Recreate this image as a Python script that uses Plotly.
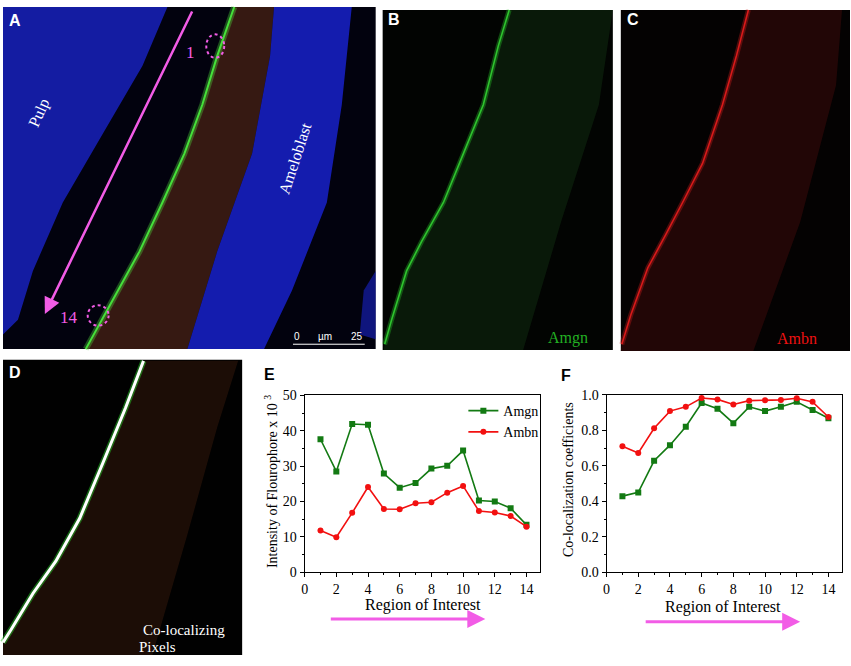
import plotly.graph_objects as go

W, H = 851, 666

# Data (panels E and F)
regions = list(range(1, 15))
amgn_intensity = [37.6, 28.5, 41.9, 41.7, 27.9, 23.9, 25.2, 29.3, 30.1, 34.4, 20.3, 20.0, 18.1, 13.4]
ambn_intensity = [11.8, 9.9, 16.8, 24.1, 17.9, 17.8, 19.5, 19.8, 22.5, 24.4, 17.3, 16.9, 15.9, 12.9]
amgn_coloc = [0.429, 0.450, 0.628, 0.716, 0.820, 0.954, 0.921, 0.840, 0.932, 0.908, 0.932, 0.960, 0.914, 0.868]
ambn_coloc = [0.710, 0.672, 0.811, 0.908, 0.932, 0.982, 0.974, 0.945, 0.967, 0.969, 0.971, 0.980, 0.960, 0.875]

GREEN = '#137a13'
RED = '#f21010'
PINK = '#f25ce6'
SERIF = 'Liberation Serif'
SANS = 'Liberation Sans'


# helpers: convert pixel positions of the picture into paper coordinates
def px(x):
    return x / W


def py(y):
    return 1 - y / H


def path(points, close=True):
    s = 'M ' + ' L '.join(f'{px(x):.5f},{py(y):.5f}' for x, y in points)
    return s + (' Z' if close else '')


fig = go.Figure()

# Panel E traces
fig.add_trace(go.Scatter(x=regions, y=amgn_intensity, mode='lines+markers', name='Amgn',
                         line=dict(color=GREEN, width=1.6),
                         marker=dict(symbol='square', size=6, color=GREEN),
                         xaxis='x', yaxis='y'))
fig.add_trace(go.Scatter(x=regions, y=ambn_intensity, mode='lines+markers', name='Ambn',
                         line=dict(color=RED, width=1.6),
                         marker=dict(symbol='circle', size=6, color=RED),
                         xaxis='x', yaxis='y'))
# Panel F traces
fig.add_trace(go.Scatter(x=regions, y=amgn_coloc, mode='lines+markers', name='Amgn',
                         line=dict(color=GREEN, width=1.6),
                         marker=dict(symbol='square', size=6, color=GREEN),
                         xaxis='x2', yaxis='y2', showlegend=False))
fig.add_trace(go.Scatter(x=regions, y=ambn_coloc, mode='lines+markers', name='Ambn',
                         line=dict(color=RED, width=1.6),
                         marker=dict(symbol='circle', size=6, color=RED),
                         xaxis='x2', yaxis='y2', showlegend=False))

axis_common = dict(showline=True, mirror=True, linecolor='black', linewidth=1,
                   showgrid=False, zeroline=False, ticks='outside', ticklen=4,
                   tickcolor='black', tickfont=dict(family=SERIF, size=14, color='black'))

fig.update_layout(
    xaxis=dict(domain=[px(302.7), px(539)], range=[0, 14.86], tick0=0, dtick=2,
               minor=dict(dtick=1, ticks='outside', ticklen=2, tickcolor='black'),
               anchor='y', **axis_common),
    yaxis=dict(domain=[py(578.3), py(397.3)], range=[0, 50], tick0=0, dtick=10,
               minor=dict(dtick=5, ticks='outside', ticklen=2, tickcolor='black'),
               anchor='x', **axis_common),
    xaxis2=dict(domain=[px(605.7), px(841.7)], range=[0, 14.84], tick0=0, dtick=2,
                minor=dict(dtick=1, ticks='outside', ticklen=2, tickcolor='black'),
                anchor='y2', **axis_common),
    yaxis2=dict(domain=[py(578.3), py(396.7)], range=[0, 1.0], tick0=0, dtick=0.2,
                tickformat='.1f',
                minor=dict(dtick=0.1, ticks='outside', ticklen=2, tickcolor='black'),
                anchor='x2', **axis_common),
)

shapes = []
annotations = []

# ---- Panel A (merged microscopy image, drawn as rough shapes) ----
shapes.append(dict(type='rect', x0=px(0), x1=px(374), y0=py(350), y1=py(0),
                   fillcolor='#02020e', line=dict(width=0)))
# pulp nuclei
shapes.append(dict(type='path', path=path([(0, 0), (165, 0), (140, 60), (100, 130), (60, 200),
                                           (30, 270), (15, 320), (0, 335)]),
                   fillcolor='rgba(25,35,200,0.8)', line=dict(width=0)))
# enamel matrix band (dark brown)
green_edge = [(232, 0), (215, 50), (200, 100), (182, 150), (160, 200), (137, 250), (110, 300), (83, 350)]
shapes.append(dict(type='path', path=path(green_edge + [(185, 350), (215, 250), (250, 150), (268, 50), (272, 0)]),
                   fillcolor='rgba(72,34,20,0.75)', line=dict(width=0)))
# ameloblast nuclei
shapes.append(dict(type='path', path=path([(272, 0), (350, 0), (340, 100), (325, 200), (290, 290),
                                           (262, 350), (185, 350), (215, 250), (250, 150), (268, 50)]),
                   fillcolor='rgba(25,35,215,0.8)', line=dict(width=0)))
shapes.append(dict(type='path', path=path([(374, 270), (374, 340), (358, 335), (362, 290)]),
                   fillcolor='rgba(25,35,200,0.6)', line=dict(width=0)))
# bright green edge
shapes.append(dict(type='path', path=path(green_edge, close=False),
                   line=dict(color='rgba(80,220,60,0.35)', width=6)))
shapes.append(dict(type='path', path=path(green_edge, close=False),
                   line=dict(color='#46e03a', width=2)))
# dashed circles for regions 1 and 14
shapes.append(dict(type='circle', x0=px(204), x1=px(222), y0=py(52), y1=py(28),
                   line=dict(color=PINK, width=2, dash='dot')))
shapes.append(dict(type='circle', x0=px(85), x1=px(106), y0=py(326), y1=py(305),
                   line=dict(color=PINK, width=2, dash='dot')))
# scale bar
shapes.append(dict(type='line', x0=px(291), x1=px(363), y0=py(345), y1=py(345),
                   line=dict(color='white', width=1)))
annotations += [
    dict(x=px(295), y=py(337), text='0', font=dict(family=SANS, size=10, color='white')),
    dict(x=px(323), y=py(337), text='µm', font=dict(family=SANS, size=10, color='white')),
    dict(x=px(355), y=py(337), text='25', font=dict(family=SANS, size=10, color='white')),
    dict(x=px(36), y=py(108), text='Pulp', textangle=-66,
         font=dict(family=SERIF, size=16, color='white')),
    dict(x=px(293), y=py(155), text='Ameloblast', textangle=-72,
         font=dict(family=SERIF, size=16, color='white')),
    dict(x=px(188), y=py(47), text='1', font=dict(family=SERIF, size=17, color=PINK)),
    dict(x=px(66), y=py(318), text='14', font=dict(family=SERIF, size=17, color=PINK)),
    # long pink arrow
    dict(x=px(42), y=py(314), ax=148, ay=-304, text='', showarrow=True,
         arrowcolor=PINK, arrowwidth=2.5, arrowhead=2, arrowsize=1.3),
]

# ---- Panel B (Amgn channel) ----
shapes.append(dict(type='rect', x0=px(381), x1=px(612), y0=py(351), y1=py(3),
                   fillcolor='#020402', line=dict(width=0)))
b_edge = [(508, 3), (497, 40), (482, 100), (462, 150), (442, 200), (420, 240), (405, 270), (390, 320), (383, 345)]
shapes.append(dict(type='path', path=path(b_edge + [(382, 351), (522, 351), (560, 220), (598, 100), (612, 3)]),
                   fillcolor='rgba(20,55,20,0.42)', line=dict(width=0)))
shapes.append(dict(type='path', path=path(b_edge, close=False),
                   line=dict(color='rgba(40,200,40,0.35)', width=5)))
shapes.append(dict(type='path', path=path(b_edge, close=False),
                   line=dict(color='#2fc42f', width=1.6)))
annotations.append(dict(x=px(567), y=py(339), text='Amgn',
                        font=dict(family=SERIF, size=16, color='#22b022')))

# ---- Panel C (Ambn channel) ----
shapes.append(dict(type='rect', x0=px(620), x1=px(850), y0=py(352), y1=py(3),
                   fillcolor='#040202', line=dict(width=0)))
c_edge = [(748, 3), (736, 50), (722, 100), (702, 160), (682, 200), (664, 235), (647, 267), (630, 315), (621, 345)]
shapes.append(dict(type='path', path=path(c_edge + [(620, 352), (753, 352), (800, 220), (836, 80), (842, 3)]),
                   fillcolor='rgba(70,12,12,0.45)', line=dict(width=0)))
shapes.append(dict(type='path', path=path(c_edge, close=False),
                   line=dict(color='rgba(210,30,30,0.35)', width=5)))
shapes.append(dict(type='path', path=path(c_edge, close=False),
                   line=dict(color='#d81a1a', width=1.6)))
annotations.append(dict(x=px(797), y=py(339), text='Ambn',
                        font=dict(family=SERIF, size=16, color='#ee1111')))

# ---- Panel D (co-localizing pixels) ----
shapes.append(dict(type='rect', x0=px(0), x1=px(240), y0=py(663), y1=py(361),
                   fillcolor='#010101', line=dict(width=0)))
d_edge = [(141, 362), (123, 410), (100, 467), (77, 523), (53, 567), (30, 600), (8, 637), (0, 650)]
shapes.append(dict(type='path', path=path(d_edge + [(0, 663), (150, 663), (185, 540), (215, 430), (236, 362)]),
                   fillcolor='rgba(55,25,12,0.5)', line=dict(width=0)))
shapes.append(dict(type='path', path=path(d_edge, close=False),
                   line=dict(color='rgba(40,200,40,0.5)', width=6)))
shapes.append(dict(type='path', path=path(d_edge, close=False),
                   line=dict(color='white', width=3)))
annotations += [
    dict(x=px(182), y=py(637), text='Co-localizing', font=dict(family=SERIF, size=15, color='white')),
    dict(x=px(155), y=py(655), text='Pixels', font=dict(family=SERIF, size=15, color='white')),
]

# ---- panel letters ----
for letter, x, y, color in [('A', 12, 14, 'white'), ('B', 392, 13, 'white'), ('C', 632, 13, 'white'),
                            ('D', 12, 374, 'white'), ('E', 267, 376, 'black'), ('F', 565, 377, 'black')]:
    annotations.append(dict(x=px(x), y=py(y), text=f'<b>{letter}</b>',
                            font=dict(family=SANS, size=16, color=color)))

# ---- axis titles and arrows for E and F ----
annotations += [
    dict(x=px(269), y=py(486), text='Intensity of Flourophore x 10 <sup>3</sup>', textangle=-90,
         font=dict(family=SERIF, size=14, color='black')),
    dict(x=px(421), y=py(612), text='Region of Interest', font=dict(family=SERIF, size=16, color='black')),
    dict(x=px(567), y=py(484), text='Co-localization coefficients', textangle=-90,
         font=dict(family=SERIF, size=14, color='black')),
    dict(x=px(723), y=py(614), text='Region of Interest', font=dict(family=SERIF, size=16, color='black')),
    dict(x=px(484), y=py(626), ax=-156, ay=0, text='', showarrow=True,
         arrowcolor=PINK, arrowwidth=3, arrowhead=2, arrowsize=1.2),
    dict(x=px(800), y=py(629), ax=-156, ay=0, text='', showarrow=True,
         arrowcolor=PINK, arrowwidth=3, arrowhead=2, arrowsize=1.2),
]

for a in annotations:
    a.setdefault('showarrow', False)
    a.update(xref='paper', yref='paper', xanchor='center', yanchor='middle')
    if a['showarrow']:
        a.update(axref='pixel', ayref='pixel')
for s in shapes:
    s.update(xref='paper', yref='paper')

fig.update_layout(
    width=W, height=H,
    margin=dict(l=0, r=0, t=0, b=0),
    paper_bgcolor='white', plot_bgcolor='white',
    shapes=shapes, annotations=annotations,
    legend=dict(x=px(462), y=py(397), xanchor='left', yanchor='top',
                bgcolor='rgba(0,0,0,0)', font=dict(family=SERIF, size=14, color='black'),
                tracegroupgap=0, itemwidth=30),
)

# page margin off so the figure sits at the window's corner
fig.write_html('out.html', config={'displayModeBar': False},
               post_script="document.body.style.margin='0px';")
